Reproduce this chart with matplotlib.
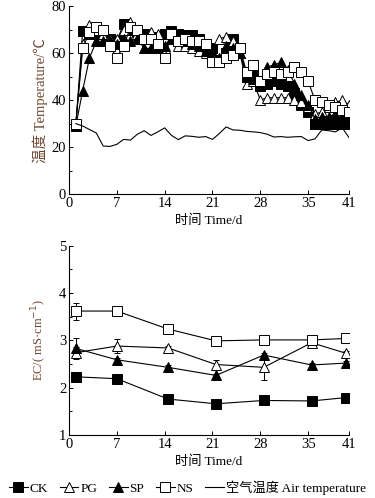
import numpy as np
import matplotlib.pyplot as plt
from matplotlib.ticker import MultipleLocator

plt.rcParams['font.family'] = ['Liberation Serif', 'Noto Sans CJK SC', 'DejaVu Sans']
plt.rcParams['axes.unicode_minus'] = False

# ---- temperature, daily ----
days = list(range(1, 42))
ck_t = [29, 69.5, 68, 68, 68, 66, 65, 72.5, 70, 69, 68, 67, 67, 68, 69.5, 68, 67.5, 67.5, 66, 64, 62,
        57, 60, 66, 62, 50, 52, 46, 47, 48, 47, 46, 43, 38, 35, 30, 30, 30, 30, 30, 30]
pg_t = [30, 64, 72, 70, 68, 66, 66, 70, 73, 68, 66, 69, 68, 62, 66, 63, 63, 62, 61, 60, 57,
        66, 67, 65, 60, 47, 48, 40, 41, 41, 41, 41, 40, 39, 37, 34, 35, 37, 39, 40, 38]
sp_t = [29, 44, 58, 65, 65, 65, 64, 66, 65, 66, 62, 62, 62, 63, 66, 66, 65, 64, 63, 61, 60,
        58, 63, 62, 60, 50, 49, 48, 54, 55, 56, 53, 47, 42, 38, 32, 33, 33, 34, 33, 33]
ns_t = [30, 62, 69, 71, 70, 63, 58, 63, 71, 70, 66, 66, 64, 58, 68, 65, 66, 65, 65, 64, 56,
        56, 58, 59, 62, 52, 55, 48, 51, 52, 51, 52, 54, 52, 48, 40, 39, 38, 37, 36, 35]
air_t = [30, 29, 27.5, 26, 20.5, 20.3, 21.2, 23.3, 23, 25.5, 27, 25, 26.5, 28.2, 25, 23.2, 24.8, 24.6,
         24.2, 24.5, 23.3, 25.8, 28.6, 27.3, 27.2, 26.7, 26.5, 26.2, 25.5, 24.3, 24.5, 24.2, 24.4,
         24.5, 22.8, 23.5, 27.3, 27, 26.5, 28.2, 24]

# ---- EC ----
ec_days = [1, 7, 14.5, 21.5, 28.5, 35.5, 40.5]
ck_ec = [2.23, 2.19, 1.76, 1.66, 1.73, 1.72, 1.79]
pg_ec = [2.74, 2.88, 2.84, 2.49, 2.43, 2.95, 2.73]
sp_ec = [2.83, 2.59, 2.43, 2.26, 2.69, 2.48, 2.52]
ns_ec = [3.62, 3.62, 3.24, 2.99, 3.01, 3.01, 3.04]
ck_err = [0.08, 0.03, 0.03, 0.03, 0.03, 0.03, 0.03]
pg_err = [0.12, 0.15, 0.04, 0.1, 0.27, 0.05, 0.04]
sp_err = [0.22, 0.04, 0.04, 0.04, 0.04, 0.04, 0.04]
ns_err = [0.18, 0.03, 0.08, 0.03, 0.03, 0.03, 0.03]

lab_color = '#6e4630'
xticks = [0, 7, 14, 21, 28, 35, 41]

fig = plt.figure(figsize=(3.75, 4.98), dpi=100)
ax1 = fig.add_axes([0.184, 0.610, 0.747, 0.378])
ax2 = fig.add_axes([0.184, 0.1265, 0.747, 0.38])

styles = [
    ('CK', 's', 'black'),
    ('PG', '^', 'white'),
    ('SP', '^', 'black'),
    ('NS', 's', 'white'),
]

for (name, mk, fc), ys in zip(styles, [ck_t, pg_t, sp_t, ns_t]):
    ax1.plot(days, ys, color='black', lw=0.8, marker=mk, ms=6.5, mfc=fc, mec='black', mew=0.7, label=name)
ax1.plot(days, air_t, color='black', lw=0.8, label='空气温度 Air temperature')

for (name, mk, fc), ys, er in zip(styles, [ck_ec, pg_ec, sp_ec, ns_ec], [ck_err, pg_err, sp_err, ns_err]):
    ax2.errorbar(ec_days, ys, yerr=er, color='black', lw=0.8, marker=mk, ms=6.5, mfc=fc, mec='black',
                 mew=0.7, capsize=2, elinewidth=0.7, capthick=0.7)

ax1.set_xlim(0, 41)
ax1.set_ylim(0, 80)
ax1.yaxis.set_major_locator(MultipleLocator(20))
ax1.yaxis.set_minor_locator(MultipleLocator(10))
ax1.set_ylabel('温度 Temperature/℃', color=lab_color, fontsize=10.5, labelpad=3)
ax1.set_xlabel('时间 Time/d', fontsize=9.5, labelpad=3)

ax2.set_xlim(0, 41)
ax2.set_ylim(1, 5)
ax2.yaxis.set_major_locator(MultipleLocator(1))
ax2.yaxis.set_minor_locator(MultipleLocator(0.5))
ax2.set_ylabel('EC/( mS·cm$^{-1}$)', color=lab_color, fontsize=9, labelpad=7)
ax2.set_xlabel('时间 Time/d', fontsize=9.5, labelpad=3)

for ax in (ax1, ax2):
    ax.set_xticks(xticks)
    for s in ('top', 'right'):
        ax.spines[s].set_visible(False)
    ax.spines['left'].set_linewidth(0.8)
    ax.spines['bottom'].set_linewidth(0.8)
    ax.tick_params(direction='in', labelsize=10.5, length=3, width=0.7, pad=2)
    ax.tick_params(which='minor', direction='in', length=2, width=0.7)

handles, labels = ax1.get_legend_handles_labels()
fig.legend(handles, labels, loc='center', bbox_to_anchor=(0.5, 0.021), ncol=5, frameon=False,
           fontsize=9.5, handlelength=1.4, handletextpad=0.15, columnspacing=0.9, borderaxespad=0)

fig.savefig('out.png', dpi=100)
